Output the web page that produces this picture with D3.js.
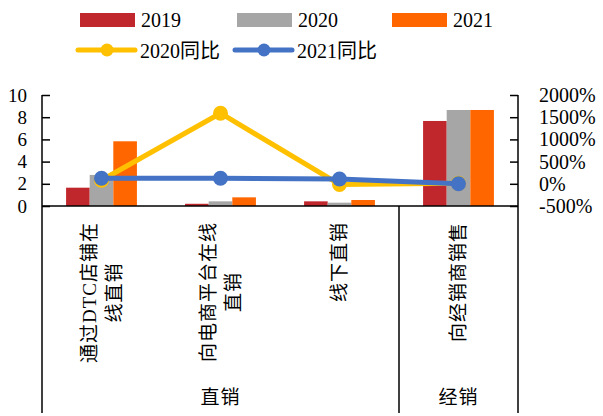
<!DOCTYPE html>
<html><head><meta charset="utf-8">
<script src="https://cdn.jsdelivr.net/npm/d3@7"></script>
<style>
body{margin:0;background:#fff;}
svg text{font-family:"Liberation Serif","Times New Roman","Noto Sans CJK SC",serif;fill:#000;}
</style></head>
<body><svg id="c" width="603" height="416"></svg>
<script>
const categories = ["通过DTC店铺在线直销","向电商平台在线直销","线下直销","向经销商销售"];
const categoryLines = [["通过DTC店铺在","线直销"],["向电商平台在线","直销"],["线下直销"],["向经销商销售"]];
const groupNames = ["直销","经销"];
const groupSpans = [3,1];
const barSeries = ["2019","2020","2021"];
const v2019 = [1.65,0.2,0.42,7.66];
const v2020 = [2.8,0.42,0.3,8.65];
const v2021 = [5.83,0.78,0.54,8.65];
const lineSeries = ["2020同比","2021同比"];
const yoy2020 = [80,1590,-15,10];
const yoy2021 = [124,124,108,0];
const leftTicks = [0,2,4,6,8,10];
const rightTicks = [-500,0,500,1000,1500,2000];

const barColors = ["#C0272D","#A6A6A6","#FF6600"];
const lineColors = ["#FFC000","#4472C4"];
const barValues = [v2019,v2020,v2021];
const lineValues = [yoy2020,yoy2021];

const svg = d3.select("#c");
const L=42,R=518,T=95,B=206,bottomEnd=413;

const x = d3.scaleBand().domain(categories).range([L,R]).padding(0);
const xs = d3.scaleBand().domain(barSeries).range([0,x.bandwidth()]).paddingInner(0).paddingOuter(1.02);
const yL = d3.scaleLinear().domain([0,10]).range([B,T]);
const yR = d3.scaleLinear().domain([-500,2000]).range([B,T]);

// bars
barSeries.forEach((s,i)=>{
  svg.append("g").selectAll("rect").data(barValues[i]).join("rect")
    .attr("x",(d,j)=>x(categories[j])+xs(s))
    .attr("width",xs.bandwidth())
    .attr("y",d=>yL(d))
    .attr("height",d=>B-yL(d))
    .attr("fill",barColors[i]);
});

// axes
const axL = svg.append("g").attr("transform",`translate(${L},0)`)
  .call(d3.axisLeft(yL).tickValues(leftTicks).tickSizeInner(-8).tickSizeOuter(0).tickPadding(15));
axL.select(".domain").remove();
axL.selectAll("line").attr("stroke","#000").attr("stroke-width",1.5);
axL.selectAll("text").style("font-size","19px").attr("fill","#000");

const axR = svg.append("g").attr("transform",`translate(${R},0)`)
  .call(d3.axisRight(yR).tickValues(rightTicks).tickFormat(d=>d+"%").tickSizeInner(-8).tickSizeOuter(0).tickPadding(21));
axR.select(".domain").remove();
axR.selectAll("line").attr("stroke","#000").attr("stroke-width",1.5);
axR.selectAll("text").style("font-size","20px").attr("fill","#000");

// axis lines
const ax = svg.append("g").attr("stroke","#000").attr("stroke-width",1.5);
ax.append("line").attr("x1",L).attr("x2",L).attr("y1",T).attr("y2",bottomEnd);
ax.append("line").attr("x1",R).attr("x2",R).attr("y1",T).attr("y2",B);
ax.append("line").attr("x1",L).attr("x2",R).attr("y1",B).attr("y2",B);
// group dividers
let acc=0;
groupSpans.forEach((sp,gi)=>{
  acc+=sp;
  const xe = acc<categories.length ? x(categories[acc]) : R;
  ax.append("line").attr("x1",xe).attr("x2",xe).attr("y1",B).attr("y2",bottomEnd).attr("stroke-width",1.5);
});

// category labels (rotated)
const labTop = 222;
categories.forEach((c,i)=>{
  const cx = x(c)+x.bandwidth()/2;
  const lines = categoryLines[i];
  const n = lines.length;
  const g = svg.append("g");
  const texts = lines.map((ln,k)=>{
    const lx = cx + (k-(n-1)/2)*25;
    return g.append("text").text(ln).attr("text-anchor","middle").attr("dominant-baseline","central")
      .style("font-size","19px").style("letter-spacing","1px").attr("data-lx",lx);
  });
  const maxLen = d3.max(texts,t=>t.node().getComputedTextLength());
  const cy = labTop + maxLen/2;
  texts.forEach(t=>{
    const lx = +t.attr("data-lx");
    t.attr("transform",`translate(${lx},${cy}) rotate(-90)`);
  });
});

// group labels
acc=0;
groupNames.forEach((gname,gi)=>{
  const x0 = x(categories[acc]);
  acc+=groupSpans[gi];
  const x1 = acc<categories.length ? x(categories[acc]) : R;
  svg.append("text").text(gname).attr("x",(x0+x1)/2).attr("y",397)
    .attr("text-anchor","middle").attr("dominant-baseline","central").style("font-size","19px").style("letter-spacing","1px");
});

// lines
const lineGen = d3.line().x((d,j)=>x(categories[j])+x.bandwidth()/2).y(d=>yR(d));
lineSeries.forEach((s,i)=>{
  svg.append("path").datum(lineValues[i]).attr("d",lineGen).attr("fill","none")
    .attr("stroke",lineColors[i]).attr("stroke-width",5).attr("stroke-linejoin","round");
  svg.append("g").selectAll("circle").data(lineValues[i]).join("circle")
    .attr("cx",(d,j)=>x(categories[j])+x.bandwidth()/2).attr("cy",d=>yR(d)).attr("r",7.5)
    .attr("fill",lineColors[i]);
});

// legend
const lg = svg.append("g");
const barLegX = [80,237,392];
barSeries.forEach((s,i)=>{
  lg.append("rect").attr("x",barLegX[i]).attr("y",13).attr("width",55).attr("height",14).attr("fill",barColors[i]);
  lg.append("text").text(s).attr("x",barLegX[i]+61).attr("y",27).style("font-size","20px");
});
const lineLegX = [78,235];
lineSeries.forEach((s,i)=>{
  lg.append("line").attr("x1",lineLegX[i]).attr("x2",lineLegX[i]+57).attr("y1",50).attr("y2",50)
    .attr("stroke",lineColors[i]).attr("stroke-width",5).attr("stroke-linecap","round");
  lg.append("circle").attr("cx",lineLegX[i]+29).attr("cy",50).attr("r",6.5).attr("fill",lineColors[i]);
  lg.append("text").text(s).attr("x",lineLegX[i]+62).attr("y",58).style("font-size","20px");
});
</script></body></html>
